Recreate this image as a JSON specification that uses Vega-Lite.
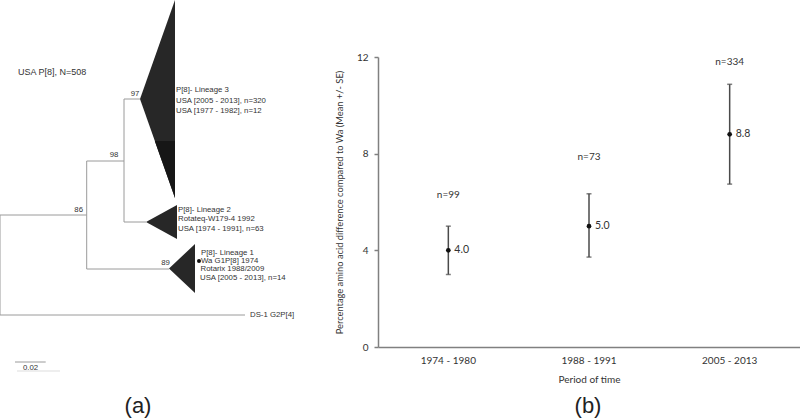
{
  "$schema": "https://vega.github.io/schema/vega-lite/v6.json",
  "width": 800,
  "height": 419,
  "autosize": "none",
  "padding": 0,
  "background": "white",
  "config": {"view": {"stroke": null}},
  "datasets": {
    "branches": [
      {"part": "branch", "x": 0, "y": 215, "x2": 86.7, "y2": 215},
      {"part": "branch", "x": 0, "y": 215, "x2": 0, "y2": 315},
      {"part": "branch", "x": 0, "y": 315, "x2": 245, "y2": 315},
      {"part": "branch", "x": 86.7, "y": 161, "x2": 86.7, "y2": 269},
      {"part": "branch", "x": 86.7, "y": 161, "x2": 124, "y2": 161},
      {"part": "branch", "x": 86.7, "y": 269, "x2": 169, "y2": 269},
      {"part": "branch", "x": 124, "y": 99, "x2": 124, "y2": 222},
      {"part": "branch", "x": 124, "y": 99, "x2": 140, "y2": 99},
      {"part": "branch", "x": 124, "y": 222, "x2": 146, "y2": 222},
      {"part": "scale", "x": 15, "y": 362, "x2": 45.7, "y2": 362},
      {"part": "underline", "x": 17, "y": 371, "x2": 60, "y2": 371}
    ],
    "clades": [
      {"clade": "L3", "x": 140, "y": 99, "y2": 99},
      {"clade": "L3", "x": 175, "y": 0, "y2": 198},
      {"clade": "L2", "x": 146, "y": 222, "y2": 222},
      {"clade": "L2", "x": 177, "y": 205, "y2": 239},
      {"clade": "L1", "x": 169, "y": 268.5, "y2": 268.5},
      {"clade": "L1", "x": 195, "y": 244, "y2": 293}
    ],
    "clade3low": [
      {"clade": "L3b", "x": 154.8, "y": 141, "y2": 141},
      {"clade": "L3b", "x": 175, "y": 141, "y2": 198}
    ],
    "tipLabels": [
      {"x": 176, "y": 90, "text": "P[8]- Lineage 3"},
      {"x": 176, "y": 101, "text": "USA [2005 - 2013], n=320"},
      {"x": 176, "y": 110.5, "text": "USA [1977 - 1982], n=12"},
      {"x": 178, "y": 210, "text": "P[8]- Lineage 2"},
      {"x": 178, "y": 218.5, "text": "Rotateq-W179-4 1992"},
      {"x": 178, "y": 228.5, "text": "USA [1974 - 1991], n=63"},
      {"x": 201, "y": 253, "text": "P[8]- Lineage 1"},
      {"x": 201, "y": 261, "text": "Wa G1P[8] 1974"},
      {"x": 200.5, "y": 269, "text": "Rotarix 1988/2009"},
      {"x": 200, "y": 277.5, "text": "USA [2005 - 2013], n=14"},
      {"x": 250, "y": 315, "text": "DS-1 G2P[4]"},
      {"x": 23, "y": 368, "text": "0.02"}
    ],
    "bootstrap": [
      {"x": 135, "y": 94, "text": "97"},
      {"x": 114, "y": 154.5, "text": "98"},
      {"x": 78.7, "y": 210, "text": "86"},
      {"x": 165.5, "y": 263, "text": "89"}
    ],
    "refStrain": [{"x": 199, "y": 261}],
    "heading": [{"x": 18, "y": 72, "text": "USA P[8], N=508"}],
    "panelTags": [
      {"x": 138, "y": 406, "text": "(a)"},
      {"x": 588, "y": 406, "text": "(b)"}
    ],
    "periods": [
      {"period": "1974 - 1980", "mean": 4.0, "lo": 3.0, "hi": 5.0, "n": "n=99", "n_y": 6.3, "label": "4.0"},
      {"period": "1988 - 1991", "mean": 5.0, "lo": 3.72, "hi": 6.34, "n": "n=73", "n_y": 7.85, "label": "5.0"},
      {"period": "2005 - 2013", "mean": 8.8, "lo": 6.74, "hi": 10.87, "n": "n=334", "n_y": 11.8, "label": "8.8"}
    ]
  },
  "layer": [
    {
      "layer": [
        {
          "data": {"name": "clades"},
          "mark": {"type": "area", "color": "#272727", "opacity": 1},
          "encoding": {
            "x": {"field": "x", "type": "quantitative", "scale": {"domain": [0, 800], "range": [0, 800], "zero": false, "nice": false}, "axis": null},
            "y": {"field": "y", "type": "quantitative", "scale": {"domain": [0, 419], "range": [0, 419], "zero": false, "nice": false}, "axis": null},
            "y2": {"field": "y2"},
            "detail": {"field": "clade"}
          }
        },
        {
          "data": {"name": "clade3low"},
          "mark": {"type": "area", "color": "#161616", "opacity": 1},
          "encoding": {
            "x": {"field": "x", "type": "quantitative"},
            "y": {"field": "y", "type": "quantitative"},
            "y2": {"field": "y2"},
            "detail": {"field": "clade"}
          }
        },
        {
          "data": {"name": "branches"},
          "transform": [{"filter": "datum.part !== 'underline'"}],
          "mark": {"type": "rule", "color": "#9a9a9a", "strokeWidth": 1},
          "encoding": {
            "x": {"field": "x", "type": "quantitative"},
            "y": {"field": "y", "type": "quantitative"},
            "x2": {"field": "x2"},
            "y2": {"field": "y2"}
          }
        },
        {
          "data": {"name": "branches"},
          "transform": [{"filter": "datum.part === 'underline'"}],
          "mark": {"type": "rule", "color": "#dddddd", "strokeWidth": 1},
          "encoding": {
            "x": {"field": "x", "type": "quantitative"},
            "y": {"field": "y", "type": "quantitative"},
            "x2": {"field": "x2"},
            "y2": {"field": "y2"}
          }
        },
        {
          "data": {"name": "refStrain"},
          "mark": {"type": "point", "filled": true, "color": "#111111", "size": 16, "opacity": 1},
          "encoding": {
            "x": {"field": "x", "type": "quantitative"},
            "y": {"field": "y", "type": "quantitative"}
          }
        },
        {
          "data": {"name": "tipLabels"},
          "mark": {"type": "text", "align": "left", "baseline": "middle", "font": "Liberation Sans, Arial, sans-serif", "fontSize": 7.8, "color": "#333333"},
          "encoding": {
            "x": {"field": "x", "type": "quantitative"},
            "y": {"field": "y", "type": "quantitative"},
            "text": {"field": "text"}
          }
        },
        {
          "data": {"name": "bootstrap"},
          "mark": {"type": "text", "align": "center", "baseline": "middle", "font": "Liberation Sans, Arial, sans-serif", "fontSize": 7.8, "color": "#333333"},
          "encoding": {
            "x": {"field": "x", "type": "quantitative"},
            "y": {"field": "y", "type": "quantitative"},
            "text": {"field": "text"}
          }
        },
        {
          "data": {"name": "heading"},
          "mark": {"type": "text", "align": "left", "baseline": "middle", "font": "Liberation Sans, Arial, sans-serif", "fontSize": 9, "color": "#333333"},
          "encoding": {
            "x": {"field": "x", "type": "quantitative"},
            "y": {"field": "y", "type": "quantitative"},
            "text": {"field": "text"}
          }
        },
        {
          "data": {"name": "panelTags"},
          "mark": {"type": "text", "align": "center", "baseline": "middle", "font": "Liberation Sans, Arial, sans-serif", "fontSize": 22, "color": "#222222"},
          "encoding": {
            "x": {"field": "x", "type": "quantitative"},
            "y": {"field": "y", "type": "quantitative"},
            "text": {"field": "text"}
          }
        }
      ]
    },
    {
      "data": {"name": "periods"},
      "encoding": {
        "x": {
          "field": "period", "type": "nominal", "sort": null,
          "scale": {"type": "band", "range": [378, 800], "paddingInner": 0, "paddingOuter": 0},
          "axis": {
            "orient": "bottom", "offset": -72, "title": "Period of time",
            "ticks": false, "labelAngle": 0, "labelPadding": 8, "titlePadding": 9,
            "domainColor": "#808080", "domainWidth": 1.5,
            "labelFont": "Lato, Open Sans, sans-serif", "labelFontSize": 10, "labelColor": "#333333",
            "titleFont": "Lato, Open Sans, sans-serif", "titleFontSize": 10, "titleFontWeight": "normal", "titleColor": "#333333"
          }
        }
      },
      "layer": [
        {
          "mark": {"type": "rule", "color": "#4a4a4a", "strokeWidth": 1.5},
          "encoding": {
            "y": {
              "field": "lo", "type": "quantitative",
              "scale": {"domain": [0, 12], "range": [347, 57], "nice": false, "zero": true},
              "axis": {
                "orient": "left", "offset": -378, "values": [0, 4, 8, 12],
                "title": "Percentage amino acid difference compared to Wa (Mean +/- SE)",
                "grid": false, "tickSize": 4, "tickColor": "#808080", "tickWidth": 1.5,
                "domainColor": "#808080", "domainWidth": 1.5, "labelPadding": 6, "titlePadding": 12,
                "labelFont": "Lato, Open Sans, sans-serif", "labelFontSize": 10, "labelColor": "#333333",
                "titleFont": "Lato, Open Sans, sans-serif", "titleFontSize": 9.3, "titleFontWeight": "normal", "titleColor": "#333333"
              }
            },
            "y2": {"field": "hi"}
          }
        },
        {
          "mark": {"type": "tick", "orient": "horizontal", "color": "#4a4a4a", "size": 5, "thickness": 1.5},
          "encoding": {"y": {"field": "lo", "type": "quantitative"}}
        },
        {
          "mark": {"type": "tick", "orient": "horizontal", "color": "#4a4a4a", "size": 5, "thickness": 1.5},
          "encoding": {"y": {"field": "hi", "type": "quantitative"}}
        },
        {
          "mark": {"type": "point", "filled": true, "color": "#111111", "size": 22, "opacity": 1},
          "encoding": {"y": {"field": "mean", "type": "quantitative"}}
        },
        {
          "mark": {"type": "text", "align": "left", "baseline": "middle", "dx": 6, "font": "Lato, Open Sans, sans-serif", "fontSize": 10.5, "color": "#333333"},
          "encoding": {"y": {"field": "mean", "type": "quantitative"}, "text": {"field": "label"}}
        },
        {
          "mark": {"type": "text", "align": "center", "baseline": "middle", "font": "Lato, Open Sans, sans-serif", "fontSize": 10, "color": "#333333"},
          "encoding": {"y": {"field": "n_y", "type": "quantitative"}, "text": {"field": "n"}}
        }
      ]
    }
  ],
  "resolve": {
    "scale": {"x": "independent", "y": "independent"},
    "axis": {"x": "independent", "y": "independent"}
  }
}
